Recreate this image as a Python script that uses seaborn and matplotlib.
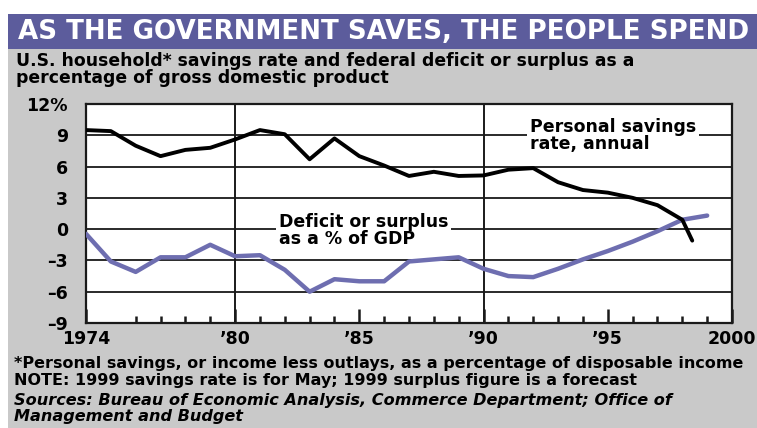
import matplotlib
matplotlib.use("Agg")
import matplotlib.pyplot as plt
import seaborn as sns
import pandas as pd
from matplotlib.patches import Rectangle

# values
sav_years = [1974, 1975, 1976, 1977, 1978, 1979, 1980, 1981, 1982, 1983, 1984, 1985,
             1986, 1987, 1988, 1989, 1990, 1991, 1992, 1993, 1994, 1995, 1996, 1997,
             1998, 1998.4]
savings = [9.5, 9.4, 8.0, 7.0, 7.6, 7.8, 8.6, 9.5, 9.1, 6.7, 8.7, 7.0,
           6.1, 5.1, 5.5, 5.1, 5.15, 5.7, 5.85, 4.5, 3.75, 3.5, 3.0, 2.3,
           0.9, -1.1]
def_years = list(range(1974, 2000))
deficit = [-0.45, -3.1, -4.1, -2.7, -2.7, -1.5, -2.6, -2.5, -3.9, -6.0, -4.8, -5.0,
           -5.0, -3.1, -2.9, -2.7, -3.8, -4.5, -4.6, -3.8, -2.9, -2.1, -1.2, -0.2,
           0.9, 1.3]

xtick_pos = [1974, 1980, 1985, 1990, 1995, 2000]
xtick_labels = ["1974", "\u201980", "\u201985", "\u201990", "\u201995", "2000"]
ytick_pos = [12, 9, 6, 3, 0, -3, -6, -9]
ytick_labels = ["12%", "9", "6", "3", "0", "\u20133", "\u20136", "\u20139"]

title = "AS THE GOVERNMENT SAVES, THE PEOPLE SPEND"
subtitle = ["U.S. household* savings rate and federal deficit or surplus as a",
            "percentage of gross domestic product"]
notes = ["*Personal savings, or income less outlays, as a percentage of disposable income",
         "NOTE: 1999 savings rate is for May; 1999 surplus figure is a forecast"]
sources = ["Sources: Bureau of Economic Analysis, Commerce Department; Office of",
           "Management and Budget"]

sav_df = pd.DataFrame({"year": sav_years, "value": savings})
def_df = pd.DataFrame({"year": def_years, "value": deficit})

sns.set_theme(style="white")
plt.rcParams["font.family"] = ["DejaVu Sans"]
plt.rcParams["text.color"] = "black"
plt.rcParams["xtick.color"] = "black"
plt.rcParams["ytick.color"] = "black"

W, H = 757, 428
fig = plt.figure(figsize=(W / 100, H / 100), dpi=100, facecolor="white")

# background panels
gray = "#c9c9c9"
purple = "#5c5c9c"
fig.patches.append(Rectangle((8 / W, 0), 1, 1 - 49 / H, transform=fig.transFigure,
                             facecolor=gray, edgecolor="none", zorder=-2))
fig.patches.append(Rectangle((8 / W, 1 - 49 / H), 1, 35 / H, transform=fig.transFigure,
                             facecolor=purple, edgecolor="none", zorder=-2))

ax = fig.add_axes([86 / W, 1 - 323 / H, (732 - 86) / W, (323 - 104) / H])
ax.set_facecolor("white")

sns.lineplot(data=def_df, x="year", y="value", ax=ax, color="#6e6eb0", linewidth=3.2,
             zorder=4)
sns.lineplot(data=sav_df, x="year", y="value", ax=ax, color="black", linewidth=2.8,
             zorder=5)

ax.set_xlim(1974, 2000)
ax.set_ylim(-9, 12)
ax.set_xlabel("")
ax.set_ylabel("")

for y in [9, 6, 3, 0, -3, -6]:
    ax.axhline(y, color="#2a2a2a", linewidth=1.4, zorder=1)
for x in [1980, 1990]:
    ax.axvline(x, color="#1a1a1a", linewidth=1.4, zorder=1)

for s in ax.spines.values():
    s.set_visible(True)
    s.set_color("#1a1a1a")
    s.set_linewidth(1.6)

ax.set_xticks(xtick_pos)
ax.set_xticklabels(xtick_labels, fontsize=12.5, fontweight="bold")
ax.set_xticks([y for y in range(1975, 2000) if y % 5 != 0], minor=True)
ax.tick_params(axis="x", which="major", direction="in", length=10, width=1.8,
               color="#1a1a1a", pad=5, bottom=True)
ax.tick_params(axis="x", which="minor", direction="in", length=5, width=1.8,
               color="#1a1a1a", bottom=True)
ax.set_yticks(ytick_pos)
ax.set_yticklabels(ytick_labels, fontsize=12.5, fontweight="bold")
ax.tick_params(axis="y", length=0, pad=13)

box = dict(facecolor="white", edgecolor="none", pad=2)
ax.text(1991.85, 9.0, "Personal savings\nrate, annual", fontsize=12.5, fontweight="bold",
        va="center", ha="left", linespacing=0.95, bbox=box, zorder=3)
ax.text(1981.75, -0.1, "Deficit or surplus\nas a % of GDP", fontsize=12.5, fontweight="bold",
        va="center", ha="left", linespacing=0.95, bbox=box, zorder=3)

fig.text(18 / W, 1 - 32 / H, title, color="white", fontsize=18.8, fontweight="bold",
         va="center", ha="left")
fig.text(16 / W, 1 - 66 / H, subtitle[0], fontsize=12.4, fontweight="bold",
         va="baseline", ha="left")
fig.text(16 / W, 1 - 83 / H, subtitle[1], fontsize=12.4, fontweight="bold",
         va="baseline", ha="left")
fig.text(14 / W, 1 - 368 / H, notes[0], fontsize=11.5, fontweight="bold", va="baseline")
fig.text(14 / W, 1 - 385 / H, notes[1], fontsize=11.5, fontweight="bold", va="baseline")
fig.text(14 / W, 1 - 405 / H, sources[0], fontsize=11.6, fontweight="bold", style="italic",
         va="baseline")
fig.text(14 / W, 1 - 421 / H, sources[1], fontsize=11.6, fontweight="bold", style="italic",
         va="baseline")

fig.savefig("out.png", dpi=100, facecolor="white")
